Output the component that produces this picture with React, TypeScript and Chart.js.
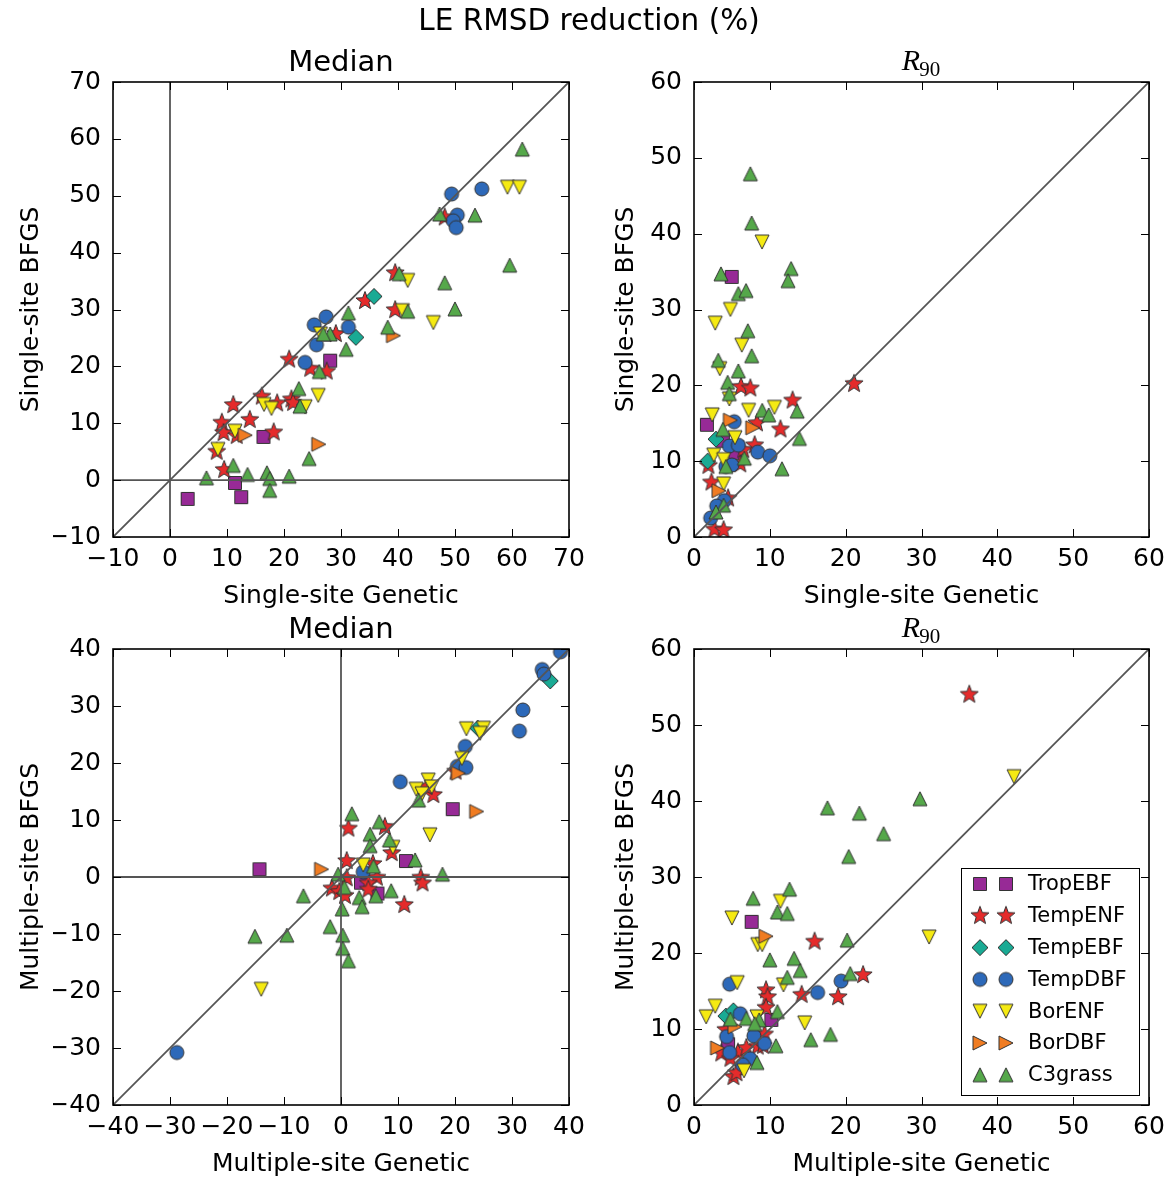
import React, { useEffect, useRef } from 'react';
import { Chart, registerables } from 'chart.js';

Chart.register(...registerables);

type Pt = [number, number];

// ---------- categories ----------
const PFT_NAMES = ['TropEBF', 'TempENF', 'TempEBF', 'TempDBF', 'BorENF', 'BorDBF', 'C3grass'];
const PFT_COLORS = ['#972a96', '#e52b2b', '#1aaa94', '#2d69b9', '#f5ea12', '#f07c22', '#55a84a'];
const PFT_SHAPES = ['square', 'star', 'diamond', 'circle', 'tridown', 'triright', 'triup'];

// ---------- axis ranges / ticks ----------
const MED_SINGLE_RANGE = [-10, 70];
const R90_RANGE = [0, 60];
const MED_MULTI_RANGE = [-40, 40];
const TICK_STEP = 10;

// ---------- Median, single-site ----------
const medSingle_TropEBF: Pt[] = [[3.1, -3.3], [11.4, -0.5], [12.5, -3], [16.4, 7.6], [28.1, 21]];
const medSingle_TempENF: Pt[] = [[20.9, 21.2], [11.1, 13.2], [9.1, 10.1], [9.4, 8.3], [14, 10.6], [16.1, 14.7], [18.8, 13.5], [21.3, 14.2], [21.6, 13.6], [11.7, 7.8], [18.2, 8.4], [8.2, 5.0], [9.5, 1.8], [24.6, 19.6], [27.5, 19.1], [29.1, 25.7], [34.2, 31.5], [39.5, 36.4], [39.5, 29.9], [48.2, 46.2]];
const medSingle_TempEBF: Pt[] = [[35.8, 32.3], [32.6, 25.1]];
const medSingle_TempDBF: Pt[] = [[49.4, 50.3], [54.7, 51.2], [50.4, 46.6], [49.7, 45.6], [50.2, 44.4], [31.3, 26.9], [27.4, 28.7], [25.3, 27.3], [25.7, 23.8], [23.7, 20.7]];
const medSingle_BorENF: Pt[] = [[59.2, 51.5], [61.3, 51.5], [41.7, 35.1], [40.8, 29.8], [46.2, 27.7], [26, 14.9], [26.4, 25.7], [16.5, 13.3], [17.8, 12.6], [23.7, 12.9], [11.4, 8.6], [8.4, 5.4]];
const medSingle_BorDBF: Pt[] = [[13.2, 7.9], [26.1, 6.3], [39.2, 25.4]];
const medSingle_C3grass: Pt[] = [[61.8, 58.2], [47.3, 46.8], [53.5, 46.6], [59.6, 37.8], [48.2, 34.7], [50, 30.1], [40.2, 36.3], [41.7, 29.7], [31.3, 29.4], [38.2, 26.9], [30.9, 23], [28.1, 25.7], [26.9, 25.7], [26.2, 19.1], [22.6, 16.1], [22.8, 13], [24.4, 3.8], [11.1, 2.6], [6.4, 0.4], [13.6, 1], [17, 1.3], [17.5, 0.3], [17.5, -1.8], [20.9, 0.7]];

// ---------- R90, single-site ----------
const r90Single_TropEBF: Pt[] = [[4.97, 34.3], [1.7, 14.8], [3.8, 12.7], [5.45, 11.1]];
const r90Single_TempENF: Pt[] = [[6.2, 19.8], [7.43, 19.6], [13, 18], [21.1, 20.2], [8.3, 15], [11.4, 14.2], [8, 12.1], [6.5, 11.5], [1.9, 9.4], [6.1, 9.6], [2.3, 7.2], [4.5, 5.1], [2.7, 1], [3.9, 0.9]];
const r90Single_TempEBF: Pt[] = [[2.9, 12.9], [1.8, 10]];
const r90Single_TempDBF: Pt[] = [[5.3, 15.2], [4.66, 12], [5.85, 12.1], [8.4, 11.2], [10, 10.7], [4.2, 9.3], [5, 9.5], [4, 4.8], [3, 4.1], [2.2, 2.5]];
const r90Single_BorENF: Pt[] = [[8.97, 38.9], [4.8, 30], [2.8, 28.2], [6.3, 25.3], [3.4, 22.2], [4.66, 18.2], [10.6, 17.1], [7.2, 16.7], [2.4, 16.1], [5.4, 13.1], [2.6, 10.8], [3.9, 10.2], [3.9, 7]];
const r90Single_BorDBF: Pt[] = [[4.8, 15.4], [7.75, 14.4], [3.3, 6.1]];
const r90Single_C3grass: Pt[] = [[7.43, 47.9], [7.6, 41.4], [12.8, 35.4], [12.4, 33.8], [3.56, 34.7], [5.85, 32.1], [6.86, 32.5], [7.1, 27.2], [7.6, 23.9], [3.2, 23.3], [5.85, 21.9], [4.44, 20.4], [4.66, 18.9], [13.6, 16.6], [9, 16.7], [9.85, 16.1], [3.8, 14.2], [13.9, 13], [6.64, 10.4], [4.2, 9.3], [11.6, 9], [3.9, 4.2], [2.9, 3.3]];

// ---------- Median, multiple-site ----------
const medMulti_TropEBF: Pt[] = [[-14.3, 1.35], [19.6, 11.9], [11.4, 2.8], [3.5, -1], [6.4, -2.9]];
const medMulti_TempENF: Pt[] = [[1.3, 8.5], [7.7, 8.8], [1, 2.8], [5.6, 2.3], [1, -0.2], [6.3, -0.1], [4.8, -1.1], [4.8, -2.2], [-1.6, -2], [-0.3, -2.6], [0.7, -3.3], [8.9, 4.2], [14, -0.1], [14.3, -1.1], [11.1, -4.9], [16.2, 14.4], [15, 15.8], [20.1, 18.5]];
const medMulti_TempEBF: Pt[] = [[36.7, 34.4], [24, 26.1]];
const medMulti_TempDBF: Pt[] = [[-28.8, -30.8], [3.9, 0.9], [38.5, 39.5], [35.3, 36.4], [35.6, 35.6], [31.9, 29.3], [31.3, 25.6], [21.8, 22.9], [20.4, 19.4], [21.9, 19.2], [10.4, 16.7]];
const medMulti_BorENF: Pt[] = [[-14, -19.7], [3.9, 2.1], [15.6, 7.4], [9.1, 5.2], [22, 26], [25, 26.1], [24.4, 25.2], [21.2, 20.8], [15.3, 17], [15.9, 15.8], [13.2, 15.4], [14.2, 14.6]];
const medMulti_BorDBF: Pt[] = [[-3.4, 1.35], [20.6, 18.2], [23.8, 11.5]];
const medMulti_C3grass: Pt[] = [[1.9, 11.1], [6.7, 9.7], [5.1, 7.5], [5.1, 5.5], [8.5, 6.5], [13, 3], [5.7, 1.9], [-0.5, 0.5], [17.8, 0.5], [0.6, -1.8], [-6.6, -3.3], [3.2, -3.6], [3.7, -5.2], [6.1, -3.3], [8.8, -2.4], [0.2, -5.6], [-1.9, -8.7], [0.3, -10.2], [0.3, -12.5], [1.3, -14.7], [-9.5, -10.2], [-15.1, -10.4], [13.6, 13.5]];

// ---------- R90, multiple-site ----------
const r90Multi_TropEBF: Pt[] = [[7.6, 24.1], [10.2, 11.2], [4.5, 8]];
const r90Multi_TempENF: Pt[] = [[36.3, 54], [15.9, 21.5], [22.3, 17.1], [14.2, 14.5], [19, 14.2], [9.5, 15.1], [9.7, 14.2], [9.5, 12.8], [4.2, 9.9], [9.3, 9.3], [3.6, 6.8], [5.8, 6.9], [6.9, 7.5], [8.4, 7.7], [9.1, 7.8], [4.8, 6.1], [5.2, 3.7], [5.6, 4.2]];
const r90Multi_TempEBF: Pt[] = [[4.2, 11.7], [5.2, 12.4]];
const r90Multi_TempDBF: Pt[] = [[19.4, 16.3], [16.3, 14.8], [4.7, 15.9], [6.1, 12], [4.3, 9], [7.9, 9.1], [9.3, 8.1], [4.7, 6.9], [7.4, 6.1], [6.4, 5.3]];
const r90Multi_BorENF: Pt[] = [[42.2, 43.2], [31, 22.1], [11.4, 26.8], [5, 24.6], [8.4, 21.1], [9, 21.1], [11.8, 15.8], [5.7, 16.1], [2.8, 13], [1.6, 11.6], [8.3, 11.6], [14.6, 10.8], [6.6, 4.5]];
const r90Multi_BorDBF: Pt[] = [[9.5, 22.2], [5.4, 10.3], [3.1, 7.5]];
const r90Multi_C3grass: Pt[] = [[29.8, 40.3], [17.6, 39.1], [21.8, 38.4], [25, 35.7], [20.4, 32.7], [12.6, 28.4], [7.8, 27.2], [11, 25.4], [12.3, 25.2], [20.2, 21.7], [10, 19.1], [13.2, 19.3], [14, 17.7], [12.3, 16.8], [20.6, 17.3], [6.9, 11.4], [8.6, 11.2], [8, 10.7], [11, 12.3], [15.4, 8.6], [18, 9.3], [4.8, 11.3], [10.8, 7.8], [8.3, 5.6]];

// ---------- texts ----------
const SUPTITLE = 'LE RMSD reduction (%)';
const TITLE_MEDIAN = 'Median';
const LABEL_SS_GEN = 'Single-site Genetic';
const LABEL_SS_BFGS = 'Single-site BFGS';
const LABEL_MS_GEN = 'Multiple-site Genetic';
const LABEL_MS_BFGS = 'Multiple-site BFGS';

const SANS = '"DejaVu Sans", "Noto Sans", sans-serif';
const SERIF = '"Liberation Serif", "DejaVu Serif", serif';
const W = 1166;
const H = 1180;

interface PanelSpec {
  data: Pt[][];
  range: number[];
  box: [number, number, number, number]; // left, top, right, bottom of plot area
  math: boolean;
  xLabel: string;
  yLabel: string;
  zeroLines: boolean;
  legend: boolean;
  suptitle: boolean;
  yLabelOffset: number;
}

const PANELS: PanelSpec[] = [
  {
    data: [medSingle_TropEBF, medSingle_TempENF, medSingle_TempEBF, medSingle_TempDBF, medSingle_BorENF, medSingle_BorDBF, medSingle_C3grass],
    range: MED_SINGLE_RANGE, box: [113, 82, 569, 537], math: false,
    xLabel: LABEL_SS_GEN, yLabel: LABEL_SS_BFGS, zeroLines: true, legend: false, suptitle: true, yLabelOffset: 75,
  },
  {
    data: [r90Single_TropEBF, r90Single_TempENF, r90Single_TempEBF, r90Single_TempDBF, r90Single_BorENF, r90Single_BorDBF, r90Single_C3grass],
    range: R90_RANGE, box: [694, 82, 1149, 537], math: true,
    xLabel: LABEL_SS_GEN, yLabel: LABEL_SS_BFGS, zeroLines: false, legend: false, suptitle: false, yLabelOffset: 61,
  },
  {
    data: [medMulti_TropEBF, medMulti_TempENF, medMulti_TempEBF, medMulti_TempDBF, medMulti_BorENF, medMulti_BorDBF, medMulti_C3grass],
    range: MED_MULTI_RANGE, box: [113, 649, 569, 1105], math: false,
    xLabel: LABEL_MS_GEN, yLabel: LABEL_MS_BFGS, zeroLines: true, legend: false, suptitle: false, yLabelOffset: 75,
  },
  {
    data: [r90Multi_TropEBF, r90Multi_TempENF, r90Multi_TempEBF, r90Multi_TempDBF, r90Multi_BorENF, r90Multi_BorDBF, r90Multi_C3grass],
    range: R90_RANGE, box: [694, 649, 1149, 1105], math: true,
    xLabel: LABEL_MS_GEN, yLabel: LABEL_MS_BFGS, zeroLines: false, legend: true, suptitle: false, yLabelOffset: 61,
  },
];

// ---------- marker images ----------
function makeMarker(shape: string, color: string): HTMLCanvasElement {
  const s = 24;
  const c = document.createElement('canvas');
  c.width = s;
  c.height = s;
  const ctx = c.getContext('2d')!;
  ctx.translate(s / 2, s / 2);
  ctx.beginPath();
  if (shape === 'square') {
    ctx.rect(-6.5, -6.5, 13, 13);
  } else if (shape === 'circle') {
    ctx.arc(0, 0, 7, 0, Math.PI * 2);
  } else if (shape === 'diamond') {
    const d = 8;
    ctx.moveTo(0, -d); ctx.lineTo(d, 0); ctx.lineTo(0, d); ctx.lineTo(-d, 0);
  } else if (shape === 'star') {
    const R = 9.5, r = 4;
    for (let i = 0; i < 10; i++) {
      const ang = -Math.PI / 2 + (i * Math.PI) / 5;
      const rad = i % 2 === 0 ? R : r;
      const px = Math.cos(ang) * rad, py = Math.sin(ang) * rad;
      if (i === 0) ctx.moveTo(px, py); else ctx.lineTo(px, py);
    }
  } else if (shape === 'triup') {
    const h = 7;
    ctx.moveTo(0, -h); ctx.lineTo(h, h); ctx.lineTo(-h, h);
  } else if (shape === 'tridown') {
    const h = 7;
    ctx.moveTo(0, h); ctx.lineTo(h, -h); ctx.lineTo(-h, -h);
  } else if (shape === 'triright') {
    const h = 7;
    ctx.moveTo(h, 0); ctx.lineTo(-h, h); ctx.lineTo(-h, -h);
  }
  ctx.closePath();
  ctx.fillStyle = color;
  ctx.fill();
  ctx.lineWidth = 1;
  ctx.strokeStyle = '#333333';
  ctx.stroke();
  return c;
}

let MARKERS: HTMLCanvasElement[] | null = null;
function getMarkers() {
  if (!MARKERS) MARKERS = PFT_SHAPES.map((s, i) => makeMarker(s, PFT_COLORS[i]));
  return MARKERS;
}

const fmtTick = (v: number | string) => {
  const n = Number(v);
  return n < 0 ? '\u2212' + Math.abs(n) : String(n);
};

const relabel = (s: any) => {
  s.ticks.forEach((t: any) => {
    t.label = fmtTick(t.value);
  });
};

function makeDecor(spec: PanelSpec) {
  return {
    id: 'decor',
    afterDatasetsDraw(chart: any) {
      const { ctx, chartArea: a, scales } = chart;
      const xs = scales.x, ys = scales.y;
      ctx.save();
      ctx.strokeStyle = '#000';
      ctx.lineWidth = 1;
      const TL = 8;
      ctx.beginPath();
      xs.ticks.forEach((t: any) => {
        const p = Math.round(xs.getPixelForValue(t.value)) + 0.5;
        ctx.moveTo(p, a.bottom); ctx.lineTo(p, a.bottom - TL);
        ctx.moveTo(p, a.top); ctx.lineTo(p, a.top + TL);
      });
      ys.ticks.forEach((t: any) => {
        const p = Math.round(ys.getPixelForValue(t.value)) + 0.5;
        ctx.moveTo(a.left, p); ctx.lineTo(a.left + TL, p);
        ctx.moveTo(a.right, p); ctx.lineTo(a.right - TL, p);
      });
      ctx.stroke();
      ctx.lineWidth = 1.6;
      ctx.strokeRect(a.left, a.top, a.right - a.left, a.bottom - a.top);
      ctx.restore();
    },
    afterDraw(chart: any) {
      const { ctx, chartArea: a } = chart;
      const cx = (a.left + a.right) / 2;
      const cy = (a.top + a.bottom) / 2;
      ctx.save();
      ctx.fillStyle = '#000';
      ctx.textBaseline = 'alphabetic';
      // suptitle
      if (spec.suptitle) {
        ctx.font = `29.5px ${SANS}`;
        ctx.textAlign = 'center';
        ctx.fillText(SUPTITLE, 589, 30);
      }
      // subplot title
      if (!spec.math) {
        ctx.font = `29px ${SANS}`;
        ctx.textAlign = 'center';
        ctx.fillText(TITLE_MEDIAN, cx, a.top - 11);
      } else {
        ctx.textAlign = 'left';
        ctx.font = `italic 30px ${SERIF}`;
        const wR = ctx.measureText('R').width;
        ctx.font = `21px ${SERIF}`;
        const w9 = ctx.measureText('90').width;
        const x0 = cx - (wR + w9) / 2;
        ctx.font = `italic 30px ${SERIF}`;
        ctx.fillText('R', x0, a.top - 12);
        ctx.font = `21px ${SERIF}`;
        ctx.fillText('90', x0 + wR - 1, a.top - 6);
      }
      // axis labels
      ctx.font = `25px ${SANS}`;
      ctx.textAlign = 'center';
      ctx.fillText(spec.xLabel, cx, a.bottom + 66);
      ctx.save();
      ctx.translate(a.left - spec.yLabelOffset, cy);
      ctx.rotate(-Math.PI / 2);
      ctx.fillText(spec.yLabel, 0, 0);
      ctx.restore();
      // legend
      if (spec.legend) {
        const markers = getMarkers();
        const lx = 961, ly = 868, lw = 178, lh = 227;
        ctx.fillStyle = '#fff';
        ctx.fillRect(lx, ly, lw, lh);
        ctx.strokeStyle = '#000';
        ctx.lineWidth = 1;
        ctx.strokeRect(lx + 0.5, ly + 0.5, lw, lh);
        ctx.font = `21px ${SANS}`;
        ctx.textAlign = 'left';
        ctx.textBaseline = 'middle';
        ctx.fillStyle = '#000';
        PFT_NAMES.forEach((name, i) => {
          const y = 884 + i * 31.8;
          const m = markers[i];
          ctx.drawImage(m, 980 - m.width / 2, y - m.height / 2);
          ctx.drawImage(m, 1006 - m.width / 2, y - m.height / 2);
          ctx.fillText(name, 1028, y + 1);
        });
      }
      ctx.restore();
    },
  };
}

function buildConfig(spec: PanelSpec): any {
  const markers = getMarkers();
  const [lo, hi] = spec.range;
  const lineStyle = {
    showLine: true,
    pointRadius: 0,
    borderColor: '#555555',
    borderWidth: 1.8,
    backgroundColor: 'transparent',
    tension: 0,
    order: 0,
  };
  const datasets: any[] = [
    { ...lineStyle, label: '1:1', data: [{ x: lo, y: lo }, { x: hi, y: hi }] },
  ];
  if (spec.zeroLines) {
    datasets.push({ ...lineStyle, label: 'x0', data: [{ x: 0, y: lo }, { x: 0, y: hi }] });
    datasets.push({ ...lineStyle, label: 'y0', data: [{ x: lo, y: 0 }, { x: hi, y: 0 }] });
  }
  spec.data.forEach((pts, i) => {
    datasets.push({
      label: PFT_NAMES[i],
      data: pts.map(([x, y]) => ({ x, y })),
      pointStyle: markers[i],
      pointRadius: 6,
      backgroundColor: PFT_COLORS[i],
      borderColor: '#333333',
      showLine: false,
      order: 10 - i,
    });
  });
  const [L, T, R, B] = spec.box;
  const AXW = 60;
  const tickFont = { family: SANS, size: 25 };
  return {
    type: 'scatter',
    data: { datasets },
    options: {
      responsive: false,
      animation: false,
      events: [],
      layout: {
        autoPadding: false,
        padding: { left: L - AXW, top: T, right: W - R, bottom: H - B - AXW },
      },
      plugins: { legend: { display: false }, tooltip: { enabled: false }, title: { display: false } },
      scales: {
        x: {
          type: 'linear', position: 'bottom', min: lo, max: hi,
          grid: { display: false, drawTicks: false }, border: { display: false },
          ticks: { stepSize: TICK_STEP, font: tickFont, color: '#000', padding: 7, maxRotation: 0, autoSkip: false, callback: fmtTick },
          afterTickToLabelConversion: relabel,
          afterFit: (s: any) => { s.height = AXW; s.paddingLeft = 0; s.paddingRight = 0; },
        },
        y: {
          type: 'linear', position: 'left', min: lo, max: hi,
          grid: { display: false, drawTicks: false }, border: { display: false },
          ticks: { stepSize: TICK_STEP, font: tickFont, color: '#000', padding: 12, autoSkip: false, callback: fmtTick },
          afterTickToLabelConversion: relabel,
          afterFit: (s: any) => { s.width = AXW; s.paddingTop = 0; s.paddingBottom = 0; },
        },
      },
    },
    plugins: [makeDecor(spec)],
  };
}

function Panel({ spec }: { spec: PanelSpec }) {
  const ref = useRef<HTMLCanvasElement>(null);
  useEffect(() => {
    const chart = new Chart(ref.current!, buildConfig(spec));
    return () => chart.destroy();
  }, [spec]);
  return (
    <canvas
      ref={ref}
      width={W}
      height={H}
      style={{ position: 'absolute', left: 0, top: 0, width: W, height: H }}
    />
  );
}

export default function App() {
  return (
    <div style={{ position: 'absolute', left: 0, top: 0, width: W, height: H, background: '#fff', overflow: 'hidden' }}>
      {PANELS.map((p, i) => (
        <Panel key={i} spec={p} />
      ))}
    </div>
  );
}
